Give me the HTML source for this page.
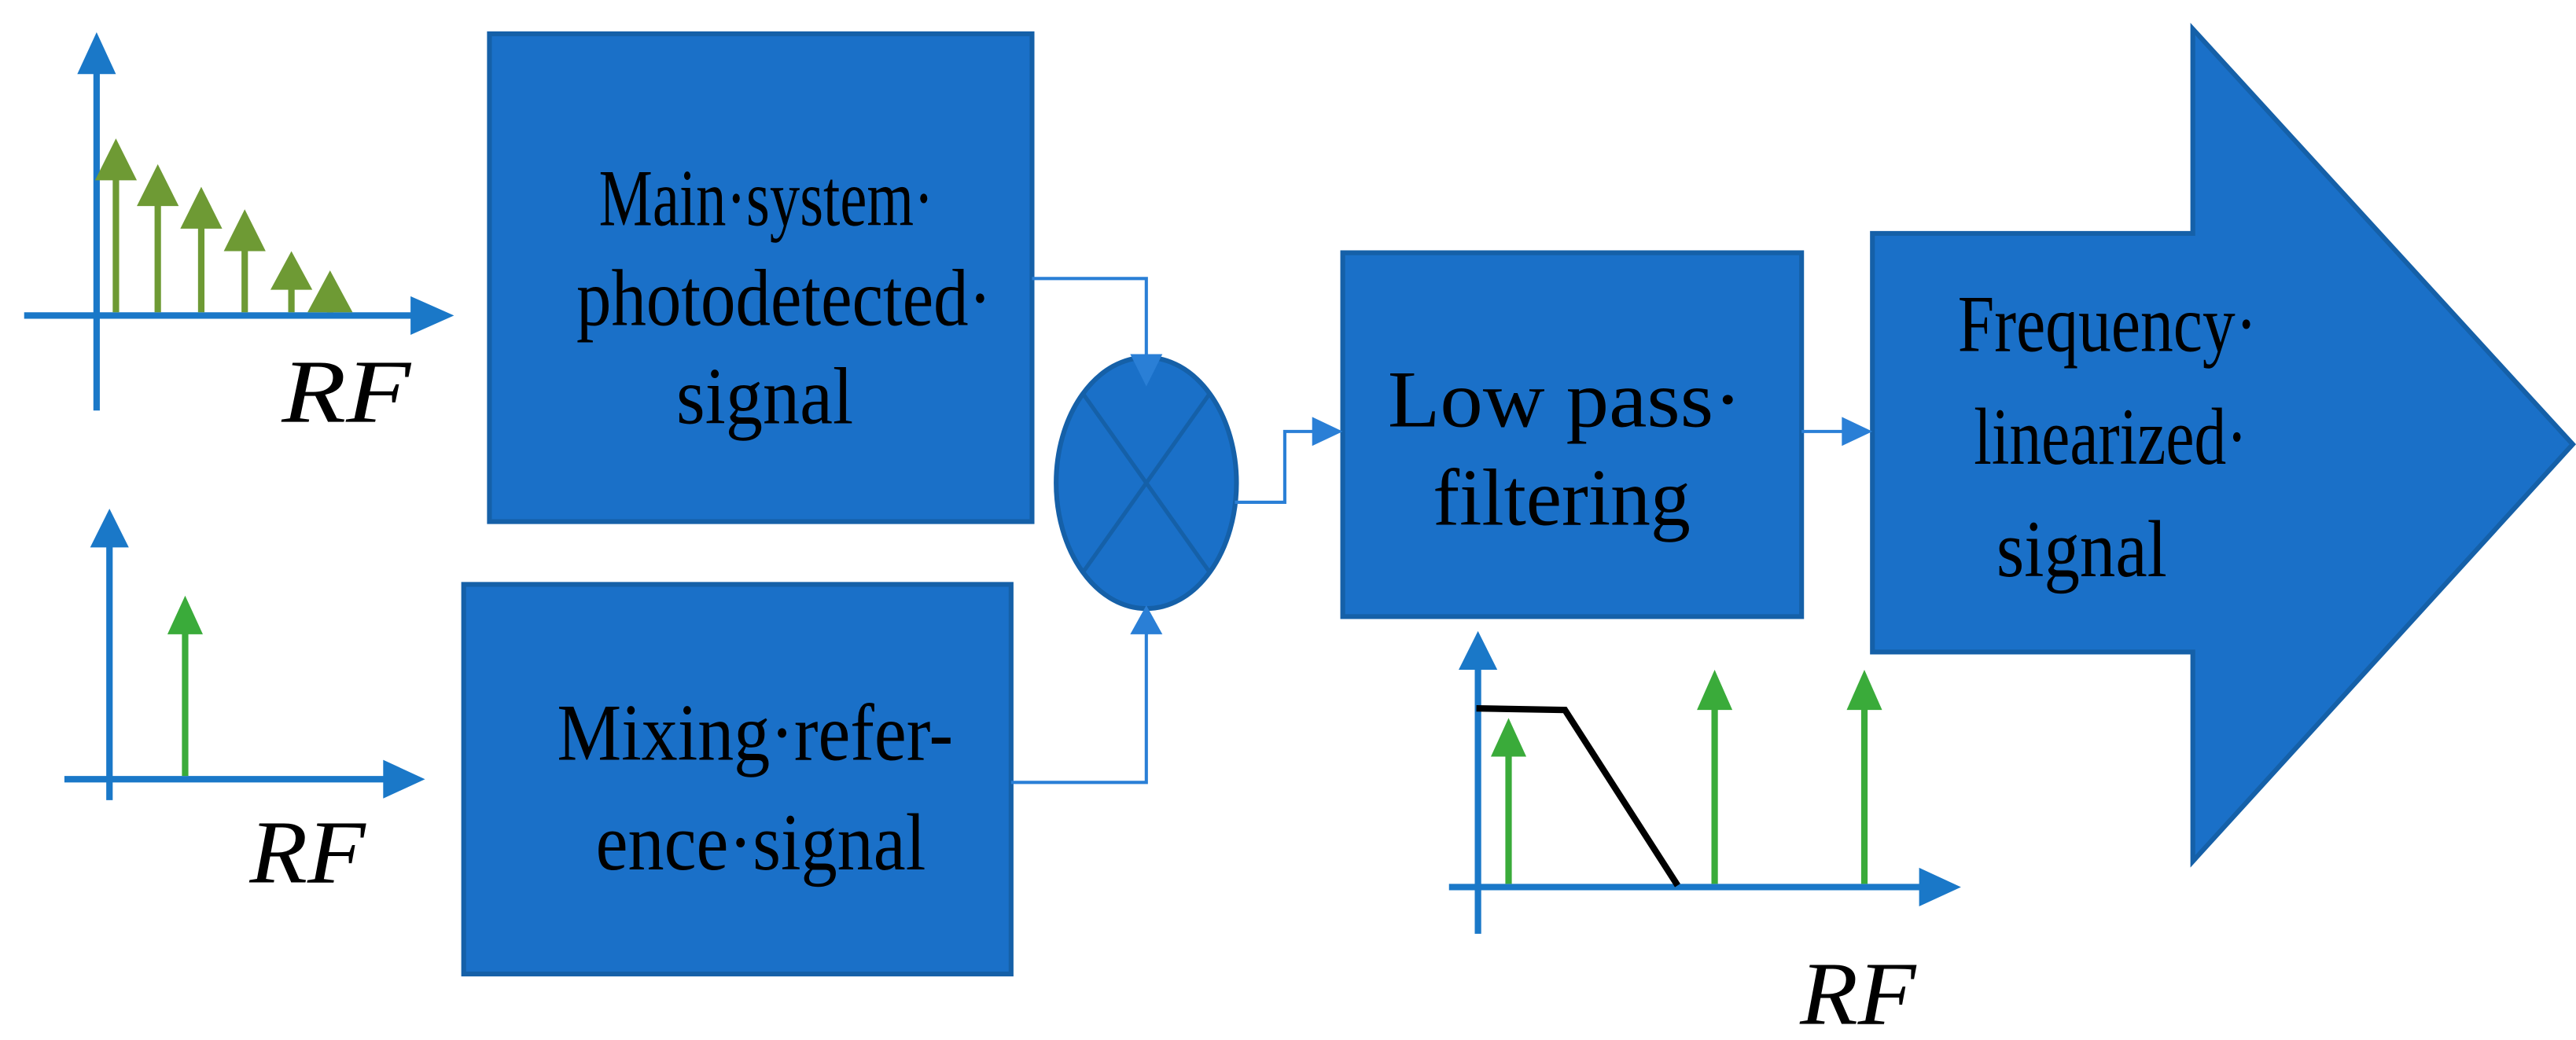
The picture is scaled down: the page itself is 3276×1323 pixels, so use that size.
<!DOCTYPE html>
<html><head><meta charset="utf-8"><style>html,body{margin:0;padding:0;background:#fff}svg{display:block}</style></head>
<body>
<svg width="3276" height="1323" viewBox="0 0 1600 646" preserveAspectRatio="none" xmlns="http://www.w3.org/2000/svg">
<g fill="#1a70c8" stroke="#1560a8" stroke-width="3">
<rect x="304" y="21" width="337" height="303"/>
<rect x="288" y="363" width="340" height="242"/>
<rect x="834" y="157" width="285" height="226"/>
<polygon points="1163,145 1362,145 1362,18 1598,276 1362,535 1362,405 1163,405"/>
<ellipse cx="712" cy="300" rx="56" ry="78"/>
</g>
<g stroke="#1560a8" stroke-width="2.5">
<line x1="673" y1="245" x2="751" y2="355"/><line x1="751" y1="245" x2="673" y2="355"/>
</g>
<g fill="none" stroke="#2a7fd6" stroke-width="2">
<polyline points="641,173 712,173 712,222"/>
<polyline points="628,486 712,486 712,392"/>
<polyline points="767,312 798,312 798,268 820,268"/>
<line x1="1119" y1="268" x2="1150" y2="268"/>
</g>
<g fill="#2a7fd6">
<polygon points="702,220 722,220 712,240"/>
<polygon points="702,394 722,394 712,376"/>
<polygon points="815,259 815,277 834,268"/>
<polygon points="1144,259 1144,277 1163,268"/>
</g>
<g stroke="#1a78c8" stroke-width="4" fill="none">
<line x1="60" y1="40" x2="60" y2="255"/><line x1="15" y1="196" x2="262" y2="196"/>
<line x1="68" y1="335" x2="68" y2="497"/><line x1="40" y1="484" x2="245" y2="484"/>
<line x1="918" y1="410" x2="918" y2="580"/><line x1="900" y1="551" x2="1200" y2="551"/>
</g>
<g fill="#1a78c8">
<polygon points="48,46 72,46 60,20"/><polygon points="255,184 255,208 282,196"/>
<polygon points="56,340 80,340 68,316"/><polygon points="238,472 238,496 264,484"/>
<polygon points="906,416 930,416 918,392"/><polygon points="1192,539 1192,563 1218,551"/>
</g>
<g stroke="#6e9a34" stroke-width="4">
<line x1="72" y1="100" x2="72" y2="194"/><line x1="98" y1="118" x2="98" y2="194"/><line x1="125" y1="132" x2="125" y2="194"/><line x1="152" y1="146" x2="152" y2="194"/><line x1="181" y1="170" x2="181" y2="194"/><line x1="205" y1="182" x2="205" y2="194"/>
</g>
<g fill="#6e9a34">
<polygon points="59,112 85,112 72,86"/><polygon points="85,128 111,128 98,102"/><polygon points="112,142 138,142 125,116"/><polygon points="139,156 165,156 152,130"/><polygon points="168,180 194,180 181,156"/><polygon points="191,194 219,194 205,168"/>
</g>
<g stroke="#3aab3a" stroke-width="4">
<line x1="115" y1="380" x2="115" y2="482"/>
<line x1="937" y1="455" x2="937" y2="549"/><line x1="1065" y1="425" x2="1065" y2="549"/><line x1="1158" y1="425" x2="1158" y2="549"/>
</g>
<g fill="#3aab3a">
<polygon points="104,394 126,394 115,370"/><polygon points="926,470 948,470 937,446"/><polygon points="1054,441 1076,441 1065,416"/><polygon points="1147,441 1169,441 1158,416"/>
</g>
<polyline points="917,440 972,441 1042,550" fill="none" stroke="#000" stroke-width="4"/>
<g font-family="'Liberation Serif',serif" font-style="italic" font-size="56" fill="#000">
<text x="175" y="262" textLength="80" lengthAdjust="spacingAndGlyphs">RF</text><text x="155" y="548" textLength="72" lengthAdjust="spacingAndGlyphs">RF</text><text x="1118" y="636" textLength="72" lengthAdjust="spacingAndGlyphs">RF</text>
</g>
<g font-family="'Liberation Serif',serif" font-size="50" fill="#000">
<text x="372" y="140" textLength="208" lengthAdjust="spacingAndGlyphs">Main·system·</text>
<text x="358" y="202" textLength="258" lengthAdjust="spacingAndGlyphs">photodetected·</text>
<text x="420" y="263" textLength="110" lengthAdjust="spacingAndGlyphs">signal</text>
<text x="346" y="472" textLength="246" lengthAdjust="spacingAndGlyphs">Mixing·refer-</text>
<text x="370" y="540" textLength="205" lengthAdjust="spacingAndGlyphs">ence·signal</text>
<text x="862" y="265" textLength="220" lengthAdjust="spacingAndGlyphs">Low pass·</text>
<text x="890" y="326" textLength="160" lengthAdjust="spacingAndGlyphs">filtering</text>
<text x="1216" y="218" textLength="186" lengthAdjust="spacingAndGlyphs">Frequency·</text>
<text x="1226" y="288" textLength="170" lengthAdjust="spacingAndGlyphs">linearized·</text>
<text x="1240" y="358" textLength="106" lengthAdjust="spacingAndGlyphs">signal</text>
</g>
</svg>
</body></html>
